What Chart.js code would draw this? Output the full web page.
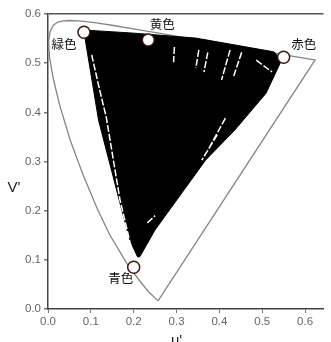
<!DOCTYPE html>
<html>
<head>
<meta charset="utf-8">
<script src="https://cdn.jsdelivr.net/npm/chart.js@4"></script>
<style>
  html, body { margin: 0; padding: 0; background: #fff; }
  #box { width: 331px; height: 342px; }
</style>
</head>
<body>
<div id="box"><canvas id="uv"></canvas></div>
<script>
// spectral locus (u', v'), closed by the purple line
const locusU = [0.2568, 0.2347, 0.2161, 0.1877, 0.1441, 0.1147, 0.0828, 0.0521, 0.0282, 0.0119, 0.0035, 0.0014, 0.0046, 0.0123, 0.0231, 0.0360, 0.0501, 0.0792, 0.1127, 0.1531, 0.2026, 0.2623, 0.3315, 0.4035, 0.5203, 0.5830, 0.6109, 0.6234, 0.2568]
const locusV = [0.0165, 0.0350, 0.0549, 0.0871, 0.1510, 0.2044, 0.2708, 0.3427, 0.4117, 0.4698, 0.5130, 0.5432, 0.5638, 0.5770, 0.5837, 0.5861, 0.5868, 0.5856, 0.5821, 0.5766, 0.5694, 0.5604, 0.5501, 0.5393, 0.5219, 0.5125, 0.5084, 0.5065, 0.0165]

// outline of the black measured cloud
const cloudU = [0.091, 0.202, 0.345, 0.527, 0.545, 0.509, 0.436, 0.368, 0.250, 0.214, 0.209, 0.191, 0.166, 0.118, 0.086, 0.091]
const cloudV = [0.567, 0.561, 0.551, 0.523, 0.506, 0.439, 0.364, 0.303, 0.161, 0.106, 0.106, 0.140, 0.222, 0.384, 0.553, 0.567]

// white gaps inside the cloud (null breaks a streak)
const gapU = [0.102, 0.118, 0.136, 0.168, 0.193, null,
    0.295, 0.293, null, 0.352, 0.345, null, 0.373, 0.364, null,
    0.425, 0.405, null, 0.452, 0.432, null, 0.486, 0.523, null,
    0.414, 0.373, null, 0.395, 0.359, null, 0.232, 0.250]
const gapV = [0.517, 0.455, 0.390, 0.222, 0.130, null,
    0.533, 0.502, null, 0.527, 0.490, null, 0.522, 0.482, null,
    0.527, 0.466, null, 0.522, 0.470, null, 0.506, 0.482, null,
    0.388, 0.323, null, 0.354, 0.303, null, 0.175, 0.190]

// primaries
const primaryNames = ['緑色', '黄色', '赤色', '青色']
const primaryU = [0.084, 0.234, 0.550, 0.200]
const primaryV = [0.563, 0.547, 0.512, 0.085]

function toPoints(us, vs) {
    let pts = []
    for (let i = 0; i < us.length; i++) {
        pts.push({x: us[i], y: vs[i]})
    }
    return pts
}

// where each name sits relative to its circle (px)
const labelOffsets = [[-20, 12], [14, -16], [20, -13], [-13, 11]]

const textPlugin = {
    id: 'texts',
    afterDatasetsDraw(chart) {
        const ctx = chart.ctx
        const xs = chart.scales.x
        const ys = chart.scales.y
        ctx.save()
        ctx.fillStyle = '#111'
        ctx.font = '12.5px "Noto Sans CJK JP"'
        ctx.textAlign = 'center'
        ctx.textBaseline = 'middle'
        for (let i = 0; i < primaryNames.length; i++) {
            const px = xs.getPixelForValue(primaryU[i]) + labelOffsets[i][0]
            const py = ys.getPixelForValue(primaryV[i]) + labelOffsets[i][1]
            ctx.fillText(primaryNames[i], px, py)
        }
        // axis titles
        ctx.fillStyle = '#222'
        ctx.font = '15px "Liberation Sans"'
        ctx.textBaseline = 'middle'
        ctx.fillText("V'", 14, 188)
        ctx.textBaseline = 'alphabetic'
        ctx.fillText("u'", (chart.chartArea.left + xs.getPixelForValue(0.6)) / 2, 345)
        ctx.restore()
    }
}

const data = {
    datasets: [
        {
            label: 'primaries',
            data: toPoints(primaryU, primaryV),
            showLine: false,
            pointRadius: 6,
            pointBackgroundColor: '#fff',
            pointBorderColor: '#3a1c12',
            pointBorderWidth: 1.5,
            order: 0
        },
        {
            label: 'gap',
            data: toPoints(gapU, gapV),
            showLine: true,
            spanGaps: false,
            borderColor: '#fff',
            borderWidth: 1.5,
            borderDash: [7, 2],
            pointRadius: 0,
            order: 1
        },
        {
            label: 'cloud',
            data: toPoints(cloudU, cloudV),
            showLine: true,
            borderColor: '#000',
            backgroundColor: '#000',
            borderWidth: 1,
            fill: 'shape',
            pointRadius: 0,
            order: 2
        },
        {
            label: 'locus',
            data: toPoints(locusU, locusV),
            showLine: true,
            borderColor: '#858585',
            borderWidth: 1.3,
            pointRadius: 0,
            order: 3
        }
    ]
}

const config = {
    type: 'scatter',
    data: data,
    options: {
        responsive: true,
        maintainAspectRatio: false,
        animation: false,
        layout: { padding: { top: 14, right: 0, left: 0, bottom: 0 } },
        plugins: {
            legend: { display: false },
            tooltip: { enabled: false }
        },
        scales: {
            x: {
                type: 'linear',
                min: 0,
                max: 0.643,
                afterFit(scale) { scale.height = 33 },
                ticks: {
                    stepSize: 0.1,
                    includeBounds: false,
                    padding: 2,
                    color: '#666',
                    font: { family: 'Liberation Sans', size: 11.5 },
                    callback: v => v.toFixed(1)
                },
                grid: { drawOnChartArea: false, tickLength: 4, tickColor: '#777' },
                border: { color: '#444', width: 1.5 }
            },
            y: {
                type: 'linear',
                min: 0,
                max: 0.6,
                afterFit(scale) { scale.width = 48 },
                ticks: {
                    stepSize: 0.1,
                    padding: 3,
                    color: '#666',
                    font: { family: 'Liberation Sans', size: 11.5 },
                    callback: v => v.toFixed(1)
                },
                grid: {
                    color: c => (c.tick && Math.abs(c.tick.value - 0.6) < 1e-9) ? '#555' : 'rgba(0,0,0,0)',
                    lineWidth: 1.5,
                    tickLength: 4,
                    tickColor: '#777'
                },
                border: { color: '#444', width: 1.5 }
            }
        }
    },
    plugins: [textPlugin]
}

const uvChart = new Chart(
    document.getElementById('uv'),
    config
)
</script>
</body>
</html>
